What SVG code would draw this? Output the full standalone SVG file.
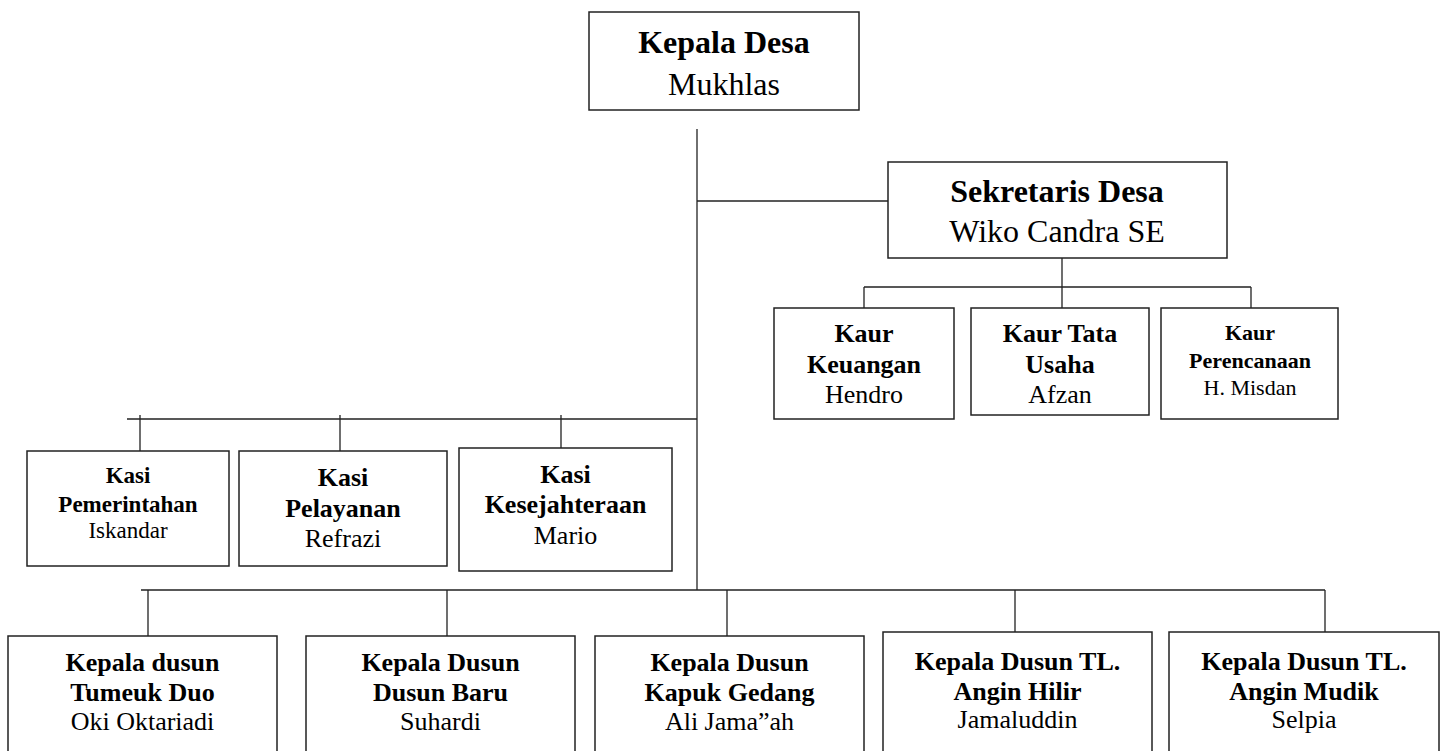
<svg xmlns="http://www.w3.org/2000/svg" width="1445" height="751" viewBox="0 0 1445 751">
<style>
.box{fill:#fff;stroke:#222;stroke-width:1.5}
.ln{fill:none;stroke:#222;stroke-width:1.3}
text{font-family:"Liberation Serif","Times New Roman",serif;fill:#000;text-anchor:middle}
.b{font-weight:bold}
</style>
<rect width="1445" height="751" fill="#fff"/>
<g id="connectors">
<path class="ln" d="M697,129 V590"/>
<path class="ln" d="M697,201 H888"/>
<path class="ln" d="M1062,258 V308 M864,287 H1251 M864,287 V308 M1251,287 V308"/>
<path class="ln" d="M127,419 H697 M140,415 V451 M340,415 V451 M561,415 V448"/>
<path class="ln" d="M141,590 H1325 M148,590 V636 M447,590 V636 M727,590 V636 M1015,590 V632 M1325,590 V632"/>
</g>
<g id="kepala-desa">
<rect class="box" x="589" y="12" width="270" height="98"/>
<text class="b" x="724" y="53" font-size="32">Kepala Desa</text>
<text x="724" y="95" font-size="32">Mukhlas</text>
</g>
<g id="sekretaris-desa">
<rect class="box" x="888" y="162" width="339" height="96"/>
<text class="b" x="1057" y="202" font-size="32">Sekretaris Desa</text>
<text x="1057" y="242" font-size="32">Wiko Candra SE</text>
</g>
<g id="kaur-keuangan">
<rect class="box" x="774" y="308" width="180" height="111"/>
<text class="b" x="864" y="342" font-size="26">Kaur</text>
<text class="b" x="864" y="373" font-size="26">Keuangan</text>
<text x="864" y="403" font-size="26">Hendro</text>
</g>
<g id="kaur-tata-usaha">
<rect class="box" x="971" y="308" width="178" height="107"/>
<text class="b" x="1060" y="342" font-size="26">Kaur Tata</text>
<text class="b" x="1060" y="373" font-size="26">Usaha</text>
<text x="1060" y="403" font-size="26">Afzan</text>
</g>
<g id="kaur-perencanaan">
<rect class="box" x="1161" y="308" width="177" height="111"/>
<text class="b" x="1250" y="340" font-size="22">Kaur</text>
<text class="b" x="1250" y="368" font-size="22">Perencanaan</text>
<text x="1250" y="395" font-size="22">H. Misdan</text>
</g>
<g id="kasi-pemerintahan">
<rect class="box" x="27" y="451" width="202" height="115"/>
<text class="b" x="128" y="483" font-size="23">Kasi</text>
<text class="b" x="128" y="512" font-size="23">Pemerintahan</text>
<text x="128" y="538" font-size="23">Iskandar</text>
</g>
<g id="kasi-pelayanan">
<rect class="box" x="239" y="451" width="208" height="115"/>
<text class="b" x="343" y="486" font-size="26">Kasi</text>
<text class="b" x="343" y="517" font-size="26">Pelayanan</text>
<text x="343" y="547" font-size="26">Refrazi</text>
</g>
<g id="kasi-kesejahteraan">
<rect class="box" x="459" y="448" width="213" height="123"/>
<text class="b" x="565.5" y="483" font-size="26">Kasi</text>
<text class="b" x="565.5" y="513" font-size="26">Kesejahteraan</text>
<text x="565.5" y="544" font-size="26">Mario</text>
</g>
<g id="kadus-tumeuk-duo">
<rect class="box" x="8" y="636" width="269" height="130"/>
<text class="b" x="142.5" y="671" font-size="26">Kepala dusun</text>
<text class="b" x="142.5" y="701" font-size="26">Tumeuk Duo</text>
<text x="142.5" y="730" font-size="26">Oki Oktariadi</text>
</g>
<g id="kadus-dusun-baru">
<rect class="box" x="306" y="636" width="269" height="130"/>
<text class="b" x="440.5" y="671" font-size="26">Kepala Dusun</text>
<text class="b" x="440.5" y="701" font-size="26">Dusun Baru</text>
<text x="440.5" y="730" font-size="26">Suhardi</text>
</g>
<g id="kadus-kapuk-gedang">
<rect class="box" x="595" y="636" width="269" height="130"/>
<text class="b" x="729.5" y="671" font-size="26">Kepala Dusun</text>
<text class="b" x="729.5" y="701" font-size="26">Kapuk Gedang</text>
<text x="729.5" y="730" font-size="26">Ali Jama”ah</text>
</g>
<g id="kadus-angin-hilir">
<rect class="box" x="883" y="632" width="269" height="134"/>
<text class="b" x="1017.5" y="670" font-size="26">Kepala Dusun TL.</text>
<text class="b" x="1017.5" y="700" font-size="26">Angin Hilir</text>
<text x="1017.5" y="728" font-size="26">Jamaluddin</text>
</g>
<g id="kadus-angin-mudik">
<rect class="box" x="1169" y="632" width="270" height="134"/>
<text class="b" x="1304" y="670" font-size="26">Kepala Dusun TL.</text>
<text class="b" x="1304" y="700" font-size="26">Angin Mudik</text>
<text x="1304" y="728" font-size="26">Selpia</text>
</g>
</svg>
